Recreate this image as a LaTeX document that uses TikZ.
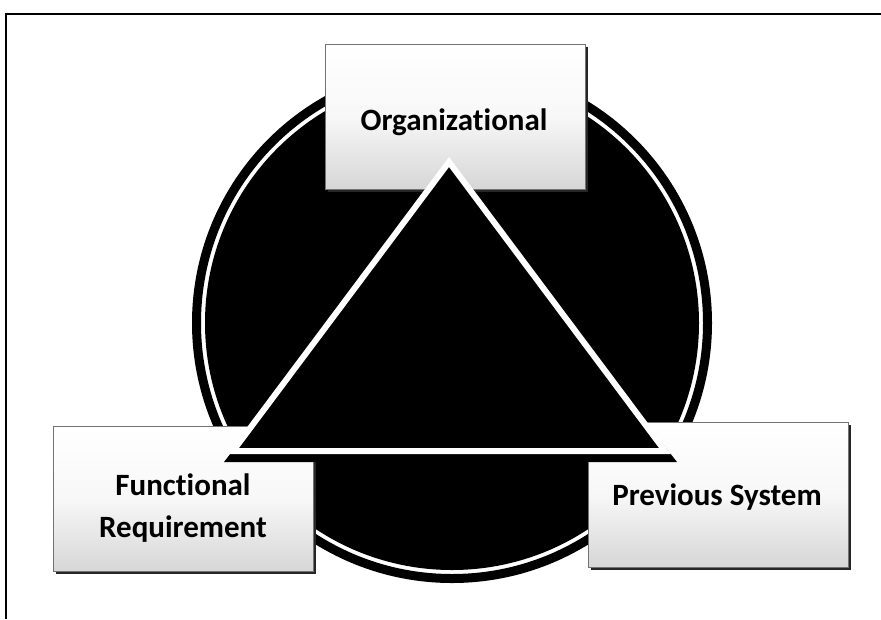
\documentclass[tikz,border=0pt]{standalone}
\usepackage{fontspec}
\setmainfont{Carlito}[Ligatures=NoCommon]
\usetikzlibrary{shadows}
\begin{document}
\begin{tikzpicture}[x=1pt,y=-1pt,
  box/.style={draw=black!55, line width=0.6pt, top color=white, bottom color=black!16,
    middle color=white!97!black, minimum width=260pt, minimum height=145pt, inner sep=0pt,
    drop shadow={shadow xshift=2.5pt, shadow yshift=-2.5pt, opacity=1, fill=black!85}},
  lbl/.style={font=\bfseries\fontsize{31}{42}\selectfont, inner sep=0pt, align=center},
  frameline/.style={line width=2pt},
  ring/.style={line width=9pt},
  tri/.style={fill=black, draw=white, line width=6pt, line join=miter},
]
\useasboundingbox (0,0) rectangle (881,619);
\fill[white] (0,0) rectangle (881,619);
% frame
\draw[frameline] (881,14) -- (6,14) -- (6,619);
% circle: outer ring and disc
\coordinate (c) at (452,323);
\draw[ring] (c) circle[radius=255.5];
\fill (c) circle[radius=247];
% boxes
\node[box] (org) at (455,116.5) {};
\node[box] (func) at (183,499) {};
\node[box] (prev) at (718,495) {};
% triangle with its shadow
\coordinate (apex) at (449,162);
\coordinate (left) at (233,451);
\coordinate (right) at (665,451);
\fill (449,170) -- (224,462) -- (677,462) -- cycle;
\filldraw[tri] (apex) -- (left) -- (right) -- cycle;
% labels
\node[lbl, anchor=base] (orgtext) at (454,130) {Organizational};
\node[lbl, anchor=base] (prevtext) at (717,505) {Previous System};
\node[lbl] (functext) at (183,508) {Functional\\Requirement};
\end{tikzpicture}
\end{document}
